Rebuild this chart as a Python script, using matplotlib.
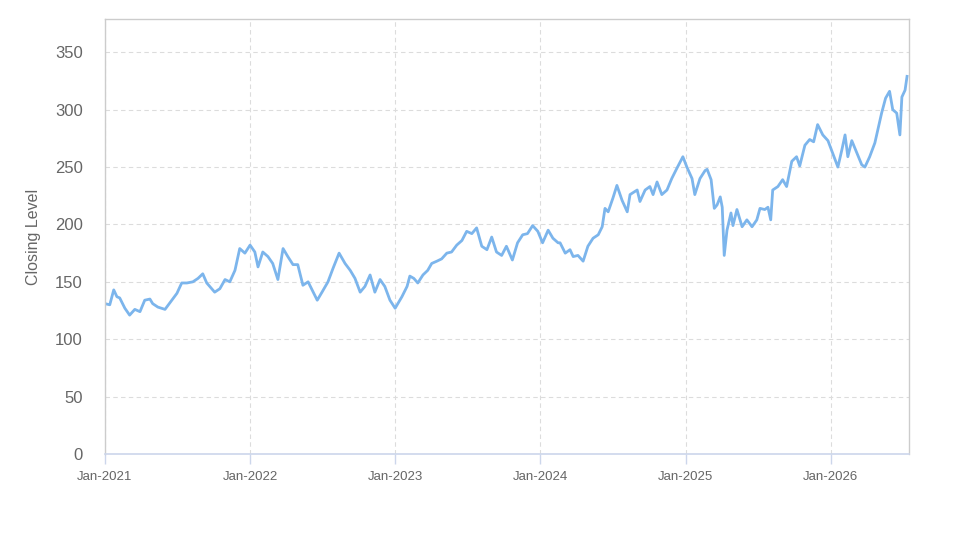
import pandas as pd
import matplotlib
matplotlib.use("Agg")
import matplotlib.pyplot as plt
import matplotlib.dates as mdates

plt.rcParams["font.family"] = ["Liberation Sans", "DejaVu Sans"]

# closing level
dates = [
    "2021-01-01", "2021-01-13", "2021-01-23", "2021-01-31", "2021-02-07", "2021-02-20",
    "2021-03-04", "2021-03-12", "2021-03-17", "2021-03-30", "2021-04-11", "2021-04-24",
    "2021-05-01", "2021-05-14", "2021-06-01", "2021-06-18", "2021-07-01", "2021-07-13",
    "2021-07-26", "2021-08-10", "2021-08-23", "2021-09-04", "2021-09-14", "2021-10-04",
    "2021-10-17", "2021-10-30", "2021-11-11", "2021-11-24", "2021-12-06", "2021-12-19",
    "2022-01-01", "2022-01-13", "2022-01-21", "2022-02-02", "2022-02-15", "2022-02-27",
    "2022-03-12", "2022-03-25", "2022-04-06", "2022-04-19", "2022-05-01", "2022-05-14",
    "2022-05-27", "2022-06-06", "2022-06-19", "2022-07-01", "2022-07-16", "2022-07-29",
    "2022-08-13", "2022-08-28", "2022-09-10", "2022-09-22", "2022-10-05", "2022-10-17",
    "2022-10-30", "2022-11-11", "2022-11-24", "2022-12-06", "2022-12-19", "2023-01-01",
    "2023-01-18", "2023-01-31", "2023-02-07", "2023-02-17", "2023-02-27", "2023-03-12",
    "2023-03-24", "2023-04-03", "2023-04-16", "2023-04-28", "2023-05-11", "2023-05-23",
    "2023-06-05", "2023-06-18", "2023-06-30", "2023-07-13", "2023-07-25", "2023-08-07",
    "2023-08-20", "2023-09-01", "2023-09-13", "2023-09-26", "2023-10-08", "2023-10-23",
    "2023-11-05", "2023-11-18", "2023-11-30", "2023-12-13", "2023-12-26", "2024-01-07",
    "2024-01-21", "2024-02-02", "2024-02-15", "2024-02-20", "2024-03-04", "2024-03-16",
    "2024-03-24", "2024-04-05", "2024-04-18", "2024-04-30", "2024-05-13", "2024-05-26",
    "2024-06-05", "2024-06-12", "2024-06-20", "2024-07-02", "2024-07-12", "2024-07-25",
    "2024-08-07", "2024-08-14", "2024-09-01", "2024-09-08", "2024-09-21", "2024-10-03",
    "2024-10-11", "2024-10-21", "2024-11-02", "2024-11-15", "2024-11-27", "2024-12-10",
    "2024-12-25", "2025-01-04", "2025-01-17", "2025-01-24", "2025-02-06", "2025-02-19",
    "2025-02-24", "2025-03-06", "2025-03-14", "2025-03-21", "2025-03-29", "2025-04-03",
    "2025-04-08", "2025-04-15", "2025-04-25", "2025-04-30", "2025-05-10", "2025-05-23",
    "2025-06-04", "2025-06-17", "2025-06-29", "2025-07-07", "2025-07-19", "2025-07-27",
    "2025-08-03", "2025-08-08", "2025-08-21", "2025-09-02", "2025-09-12", "2025-09-25",
    "2025-10-07", "2025-10-15", "2025-10-28", "2025-11-09", "2025-11-19", "2025-11-29",
    "2025-12-12", "2025-12-25", "2026-01-06", "2026-01-19", "2026-01-29", "2026-02-06",
    "2026-02-13", "2026-02-23", "2026-03-08", "2026-03-20", "2026-03-28", "2026-04-09",
    "2026-04-22", "2026-05-09", "2026-05-19", "2026-05-29", "2026-06-06", "2026-06-16",
    "2026-06-24", "2026-06-29", "2026-07-07", "2026-07-12",
]
closing = [
    131, 130, 143, 137, 136, 127,
    121, 124, 126, 124, 134, 135,
    131, 128, 126, 134, 140, 149,
    149, 150, 153, 157, 149, 141,
    144, 152, 150, 160, 179, 175,
    182, 176, 163, 176, 172, 166,
    152, 179, 172, 165, 165, 147,
    150, 143, 134, 141, 150, 162,
    175, 166, 160, 153, 141, 146,
    156, 141, 152, 146, 134, 127,
    137, 146, 155, 153, 149, 156,
    160, 166, 168, 170, 175, 176,
    182, 186, 194, 192, 197, 181,
    178, 189, 176, 173, 181, 169,
    184, 191, 192, 199, 194, 184,
    195, 188, 184, 184, 175, 178,
    172, 173, 168, 181, 188, 191,
    198, 214, 211, 223, 234, 221,
    211, 226, 230, 220, 230, 233,
    226, 237, 226, 230, 240, 249,
    259, 250, 240, 226, 240, 247,
    248, 239, 214, 217, 224, 215,
    173, 195, 210, 199, 213, 198,
    204, 198, 204, 214, 213, 215,
    204, 230, 233, 239, 233, 255,
    259, 251, 269, 274, 272, 287,
    278, 273, 262, 250, 265, 278,
    259, 273, 262, 252, 250, 259,
    271, 297, 310, 316, 300, 297,
    278, 311, 317, 329,
]
year_ticks = ["2021-01-01", "2022-01-01", "2023-01-01", "2024-01-01", "2025-01-01", "2026-01-01"]
y_ticks = [0, 50, 100, 150, 200, 250, 300, 350]

s = pd.Series(closing, index=pd.to_datetime(dates))

fig = plt.figure(figsize=(9.74, 5.47), dpi=100)
ax = fig.add_axes([0.1078, 0.17, 0.8255, 0.7953])

ax.plot(s.index, s.values, color="#7cb5ec", linewidth=2.0, solid_joinstyle="round")

ax.set_xlim(pd.Timestamp("2021-01-01"), pd.Timestamp("2026-07-17"))
ax.set_ylim(0, 379)
ax.set_yticks(y_ticks)
ax.set_xticks(pd.to_datetime(year_ticks))
ax.xaxis.set_major_formatter(mdates.DateFormatter("%b-%Y"))

ax.grid(True, color="#dcdcdc", linestyle=(0, (4, 3)), linewidth=0.8)
ax.set_axisbelow(True)

for side in ["top", "right", "left"]:
    ax.spines[side].set_color("#cccccc")
    ax.spines[side].set_linewidth(1.0)
ax.spines["bottom"].set_color("#ccd6eb")
ax.spines["bottom"].set_linewidth(1.2)

ax.tick_params(axis="y", length=0, pad=16, labelsize=12, labelcolor="#666666")
ax.tick_params(axis="x", length=7, width=1.0, color="#ccd6eb", pad=5,
               labelsize=9.5, labelcolor="#666666")

ax.set_ylabel("Closing Level", fontsize=11.5, color="#666666")
ax.yaxis.set_label_coords(-0.080, 0.5)

fig.savefig("out.png", dpi=100, facecolor="white")
